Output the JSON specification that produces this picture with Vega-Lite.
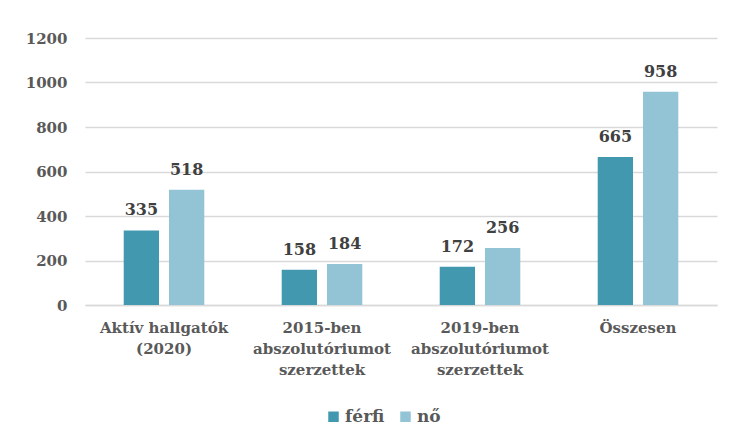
{
  "$schema": "https://vega.github.io/schema/vega-lite/v6.json",
  "width": 632,
  "height": 267,
  "autosize": {"type": "none"},
  "padding": {"left": 85, "top": 38, "right": 20, "bottom": 142},
  "background": "white",
  "config": {
    "view": {"stroke": null},
    "font": "DejaVu Serif",
    "axis": {"labelFont": "DejaVu Serif", "labelFontWeight": "bold", "labelColor": "#595959", "labelFontSize": 15}
  },
  "data": {
    "values": [
      {"kat": "Aktív hallgatók|(2020)", "nem": "férfi", "ertek": 335},
      {"kat": "Aktív hallgatók|(2020)", "nem": "nő", "ertek": 518},
      {"kat": "2015-ben|abszolutóriumot|szerzettek", "nem": "férfi", "ertek": 158},
      {"kat": "2015-ben|abszolutóriumot|szerzettek", "nem": "nő", "ertek": 184},
      {"kat": "2019-ben|abszolutóriumot|szerzettek", "nem": "férfi", "ertek": 172},
      {"kat": "2019-ben|abszolutóriumot|szerzettek", "nem": "nő", "ertek": 256},
      {"kat": "Összesen", "nem": "férfi", "ertek": 665},
      {"kat": "Összesen", "nem": "nő", "ertek": 958}
    ]
  },
  "encoding": {
    "x": {
      "field": "kat", "type": "nominal", "sort": null,
      "scale": {"paddingInner": 0.49, "paddingOuter": 0.245},
      "axis": {"title": null, "labelAngle": 0, "labelExpr": "split(datum.label, '|')", "ticks": false, "domainColor": "#d9d9d9", "domainWidth": 1.5, "labelPadding": 15, "labelLineHeight": 21}
    },
    "xOffset": {"field": "nem", "type": "nominal", "scale": {"paddingInner": 0.22}},
    "y": {
      "field": "ertek", "type": "quantitative",
      "scale": {"domain": [0, 1200]},
      "axis": {"title": null, "format": "d", "values": [0, 200, 400, 600, 800, 1000, 1200], "ticks": false, "domain": false, "gridColor": "#d9d9d9", "gridWidth": 1.5, "labelPadding": 18}
    }
  },
  "layer": [
    {
      "mark": {"type": "bar"},
      "encoding": {
        "color": {
          "field": "nem", "type": "nominal",
          "scale": {"domain": ["férfi", "nő"], "range": ["#4198AF", "#93C4D5"]},
          "legend": {"title": null, "orient": "none", "legendX": 240, "legendY": 370, "direction": "horizontal", "symbolType": "square", "symbolSize": 110, "symbolStrokeWidth": 0, "labelFont": "DejaVu Serif", "labelFontWeight": "bold", "labelFontSize": 17, "labelColor": "#595959", "columnPadding": 12, "labelOffset": 3}
        }
      }
    },
    {
      "mark": {"type": "text", "dy": -20, "fontSize": 16, "fontWeight": "bold", "color": "#404040", "font": "DejaVu Serif"},
      "encoding": {"text": {"field": "ertek", "type": "quantitative"}}
    }
  ]
}
